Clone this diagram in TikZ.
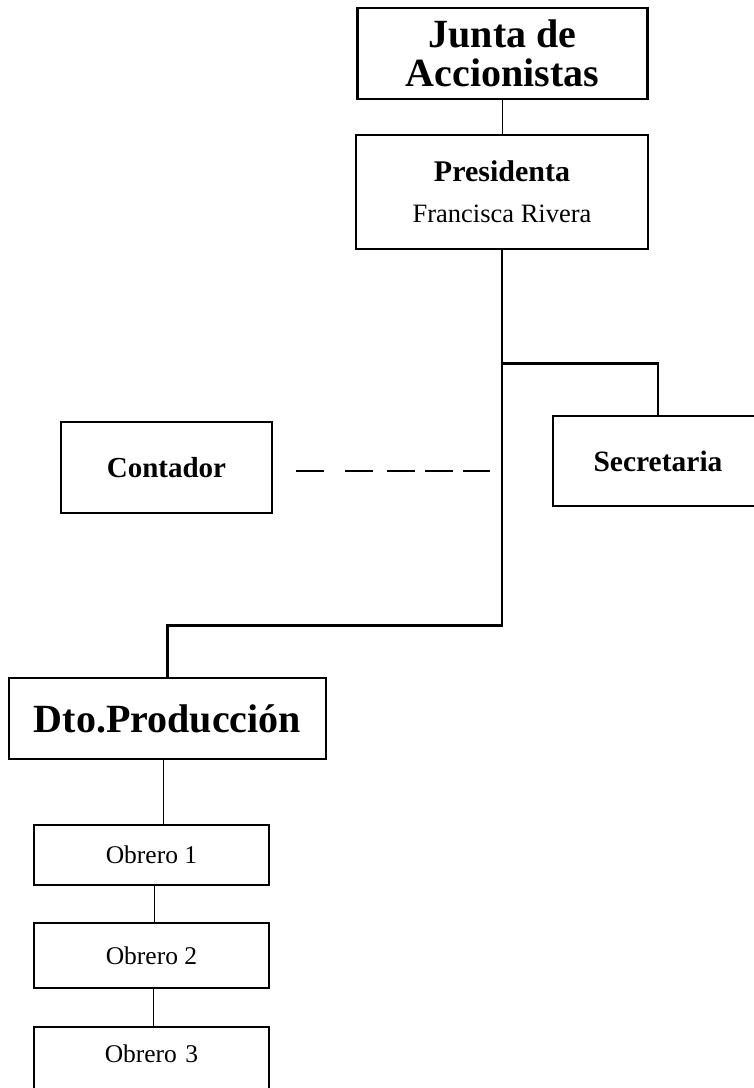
\documentclass[tikz,border=0pt]{standalone}
\usepackage{fontspec}
\setmainfont{Liberation Serif}
\usetikzlibrary{calc}
\tikzset{
  boxnode/.style={draw=black, line width=2.5pt, rectangle, inner sep=0pt, align=center},
  thinline/.style={line width=1pt},
  thickline/.style={line width=2.5pt},
  dashline/.style={line width=1.5pt, dash pattern=on 28pt off 21pt on 28pt off 14pt on 28pt off 10pt on 28pt off 10pt on 28pt off 100pt}
}
\begin{document}
\begin{tikzpicture}[x=1pt, y=-1pt]
\useasboundingbox (0,0) rectangle (754,1088);
\begin{scope}
\clip (0,0) rectangle (754,1088);
% Junta
\node[boxnode, minimum width=290pt, minimum height=91pt, font=\fontsize{40}{39}\selectfont\bfseries] (junta) at (502.5,53.5) {\raisebox{-3pt}{Junta de}\\\raisebox{-3pt}{Accionistas}};
% Presidenta
\node[boxnode, minimum width=292pt, minimum height=114pt, font=\fontsize{26.5}{41}\selectfont] (pres) at (502,192)
  {{\fontsize{30}{41}\selectfont\bfseries Presidenta}\\Francisca Rivera};
% Contador
\node[boxnode, minimum width=211pt, minimum height=91pt, font=\fontsize{29}{32}\selectfont\bfseries] (cont) at (166.5,467.5) {Contador};
% Secretaria
\node[boxnode, minimum width=210pt, minimum height=90pt, font=\fontsize{29.5}{32}\selectfont\bfseries] (sec) at (658,461) {Secretaria};
% Dto
\node[boxnode, minimum width=317pt, minimum height=81pt, font=\fontsize{40}{44}\selectfont\bfseries] (dto) at (167.5,718.5) {Dto.Producción};
% Obreros
\node[boxnode, minimum width=235pt, minimum height=60pt, font=\fontsize{25.5}{28}\selectfont] (o1) at (151.5,855) {Obrero 1};
\node[boxnode, minimum width=235pt, minimum height=65pt, font=\fontsize{25.5}{28}\selectfont] (o2) at (151.5,955.5) {Obrero 2};
\node[boxnode, minimum width=235pt, text height=35pt, text depth=45pt, text width=235pt, font=\fontsize{25.5}{28}\selectfont, anchor=base] (o3) at (151.5,1062) {Obrero 3};
% connectors
\draw[thinline] (junta.south) -- (junta.south |- pres.north);
\coordinate (turn) at ($(pres.south)+(0,375)$);
\coordinate (branch) at ($(pres.south)+(0,113)$);
\draw[thickline] (pres.south) -- (turn) -| (dto.north);
\draw[thickline] (branch) -| (sec.north);
\draw[dashline, shorten <=23pt, shorten >=12pt] ([yshift=-3.5pt]cont.east) -- ([yshift=-3.5pt]cont.east -| pres.south);
\draw[thinline] ([xshift=11.5pt]o1.north |- dto.south) -- ([xshift=11.5pt]o1.north);
\draw[thinline] ([xshift=2.5pt]o1.south) -- ([xshift=2.5pt]o1.south |- o2.north);
\draw[thinline] ([xshift=1.5pt]o2.south) -- ([xshift=1.5pt]o2.south |- o3.north);
\end{scope}
\end{tikzpicture}
\end{document}
